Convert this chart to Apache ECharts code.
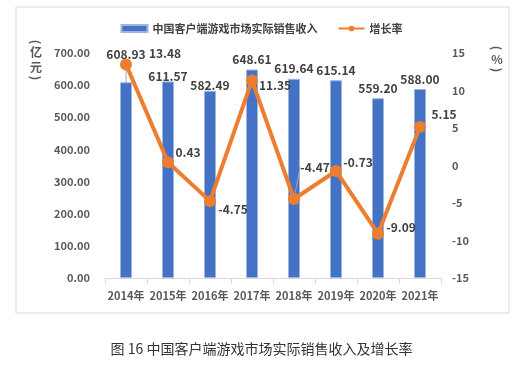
<!DOCTYPE html>
<html><head><meta charset="utf-8">
<script src="https://cdn.jsdelivr.net/npm/echarts@6/dist/echarts.min.js"></script>
<style>html,body{margin:0;padding:0;background:#fff}#c{width:523px;height:372px}</style>
</head><body><div id="c"></div>
<script>
var categories = ['2014年','2015年','2016年','2017年','2018年','2019年','2020年','2021年'];
var revenue = [608.93, 611.57, 582.49, 648.61, 619.64, 615.14, 559.20, 588.00];
var growth = [13.48, 0.43, -4.75, 11.35, -4.47, -0.73, -9.09, 5.15];
var leftTicks = {min: 0, max: 700, interval: 100};
var rightTicks = {min: -15, max: 15, interval: 5};
var revenueName = '中国客户端游戏市场实际销售收入';
var growthName = '增长率';
var caption = '图 16 中国客户端游戏市场实际销售收入及增长率';

// label layout tweaks (offsets in px), kept separate from data
var barLabelShift = [[0,-18],[0,5],[0,5],[0,0],[0,0],[0,0],[0,0],[0,0]];
var lineLabelShift = [[39,-11],[20,-10],[23,8],[23,5],[21,-32],[22,-9],[23,-6],[24,-12]];
var barLeader = [true,false,false,false,false,false,false,false];
var lineLeader = [false,false,false,false,true,false,false,false];

var FONT = '"Noto Sans CJK SC", "Noto Sans", sans-serif';
var chart = echarts.init(document.getElementById('c'), null, {renderer: 'canvas'});
var labelStyle = {fontFamily: FONT, fontSize: 12, fontWeight: 'bold', color: '#404040'};
var unitFont = 'bold 12px ' + FONT;
var R = -Math.PI / 2;

chart.setOption({
  animation: false,
  textStyle: {fontFamily: FONT},
  graphic: [
    {type: 'rect', shape: {x: 16, y: 7, width: 493, height: 306}, style: {fill: 'none', stroke: '#d9d9d9', lineWidth: 1}, silent: true},
    {type: 'text', x: 36, y: 42, rotation: R, style: {text: '(', font: unitFont, fill: '#595959', align: 'center', verticalAlign: 'middle'}},
    {type: 'text', x: 36, y: 52, style: {text: '亿', font: unitFont, fill: '#595959', align: 'center', verticalAlign: 'middle'}},
    {type: 'text', x: 36, y: 67, style: {text: '元', font: unitFont, fill: '#595959', align: 'center', verticalAlign: 'middle'}},
    {type: 'text', x: 36, y: 78, rotation: R, style: {text: ')', font: unitFont, fill: '#595959', align: 'center', verticalAlign: 'middle'}},
    {type: 'text', x: 497, y: 48, rotation: R, style: {text: '(', font: unitFont, fill: '#595959', align: 'center', verticalAlign: 'middle'}},
    {type: 'text', x: 497, y: 59, style: {text: '%', font: unitFont, fill: '#595959', align: 'center', verticalAlign: 'middle'}},
    {type: 'text', x: 497, y: 70, rotation: R, style: {text: ')', font: unitFont, fill: '#595959', align: 'center', verticalAlign: 'middle'}}
  ],
  title: {
    text: caption, left: 'center', top: 337,
    textStyle: {fontFamily: FONT, fontSize: 14, fontWeight: 'normal', color: '#333333'}
  },
  legend: {
    top: 18, left: 'center', itemGap: 20, itemWidth: 26, itemHeight: 7,
    textStyle: {fontFamily: FONT, fontSize: 11, fontWeight: 'bold', color: '#404040'},
    data: [{name: revenueName, icon: 'rect'}, {name: growthName}]
  },
  grid: {left: 105, right: 82, top: 53, bottom: 94, containLabel: false},
  xAxis: {
    type: 'category', data: categories, boundaryGap: true,
    axisLine: {lineStyle: {color: '#d9d9d9', width: 1}},
    axisTick: {show: true, alignWithLabel: false, interval: 0, length: 6, lineStyle: {color: '#d9d9d9'}},
    axisLabel: {interval: 0, margin: 12, fontFamily: FONT, fontSize: 11, fontWeight: 'bold', color: '#595959'}
  },
  yAxis: [
    {type: 'value', min: leftTicks.min, max: leftTicks.max, interval: leftTicks.interval,
     splitLine: {show: false}, axisLine: {show: false}, axisTick: {show: false},
     axisLabel: {margin: 15, fontFamily: FONT, fontSize: 11, fontWeight: 'bold', color: '#595959',
       formatter: function (v) { return v.toFixed(2); }}},
    {type: 'value', min: rightTicks.min, max: rightTicks.max, interval: rightTicks.interval,
     splitLine: {show: false}, axisLine: {show: false}, axisTick: {show: false},
     axisLabel: {margin: 11, fontFamily: FONT, fontSize: 11, fontWeight: 'bold', color: '#595959'}}
  ],
  series: [
    {
      name: revenueName, type: 'bar', yAxisIndex: 0, barWidth: 12,
      itemStyle: {color: '#4472c4', borderColor: '#9db5e0', borderWidth: 1},
      data: revenue.map(function (v, i) { return {value: v, labelLine: {show: barLeader[i]}}; }),
      label: Object.assign({show: true, position: 'top', distance: 4,
        formatter: function (p) { return p.value.toFixed(2); }}, labelStyle),
      labelLayout: function (p) {
        var s = barLabelShift[p.dataIndex];
        return {dx: s[0], dy: s[1]};
      },
      labelLine: {show: false, lineStyle: {color: '#a6a6a6', width: 1}},
      z: 2
    },
    {
      name: growthName, type: 'line', yAxisIndex: 1,
      data: growth.map(function (v, i) { return {value: v, labelLine: {show: lineLeader[i]}}; }),
      symbol: 'circle', symbolSize: 12,
      lineStyle: {color: '#ed7d31', width: 4},
      itemStyle: {color: '#ed7d31'},
      label: Object.assign({show: true, position: 'inside',
        formatter: function (p) { return p.value.toFixed(2); }}, labelStyle),
      labelLayout: function (p) {
        var s = lineLabelShift[p.dataIndex];
        return {dx: s[0], dy: s[1]};
      },
      labelLine: {show: false, lineStyle: {color: '#a6a6a6', width: 1}},
      z: 3
    }
  ]
});
</script></body></html>
